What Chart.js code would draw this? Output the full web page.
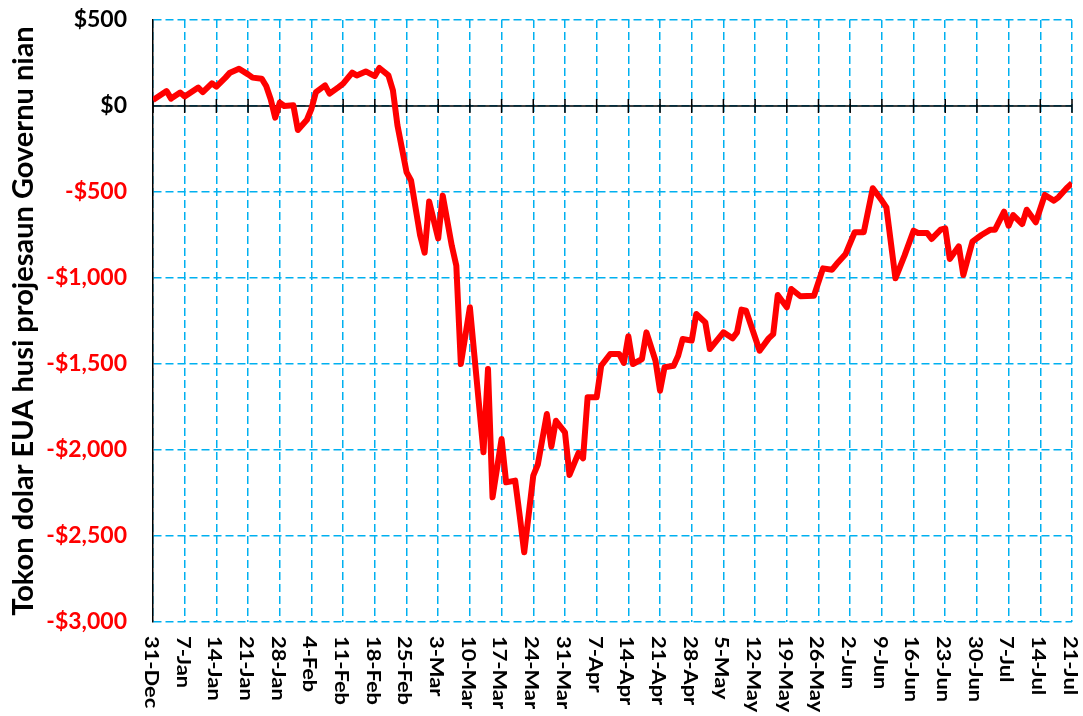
<!DOCTYPE html>
<html>
<head>
<meta charset="utf-8">
<script src="https://cdn.jsdelivr.net/npm/chart.js@4"></script>
<style>
  body { margin: 0; background: #fff; }
  #wrap { width: 1083px; height: 716px; }
</style>
</head>
<body>
<div id="wrap"><canvas id="gap-chart"></canvas></div>
<script>
// weekly tick labels (every 7 days from 31-Dec)
const tickLabels = ['31-Dec','7-Jan','14-Jan','21-Jan','28-Jan','4-Feb','11-Feb','18-Feb','25-Feb',
  '3-Mar','10-Mar','17-Mar','24-Mar','31-Mar','7-Apr','14-Apr','21-Apr','28-Apr','5-May','12-May',
  '19-May','26-May','2-Jun','9-Jun','16-Jun','23-Jun','30-Jun','7-Jul','14-Jul','21-Jul'];

// days after 31-Dec
const days = [0,3,4,6,7,10,11,13,14,16,17,19,21,22,24,25,26,27,28,29,
  31,32,34,35,36,38,39,41,42,44,45,47,49,50,52,53,54,55,56,57,
  59,60,61,63,64,66,67,68,70,71,73,74,75,77,78,80,81,82,84,85,
  87,88,89,91,92,94,95,96,98,99,101,103,104,105,106,108,109,111,112,113,
  115,116,117,119,120,122,123,126,128,129,130,131,134,136,137,138,140,141,143,146,
  148,150,151,153,155,157,159,161,162,164,166,168,169,171,172,174,175,176,178,179,
  181,183,185,186,188,189,190,192,193,195,197,199,200,202,203];

// gap vs government projection, US$
const gap = [35,87,43,78,55,107,81,132,113,165,194,217,184,165,159,116,39,-68,20,0,
  4,-140,-80,-16,81,120,72,110,130,194,178,201,174,221,178,91,-113,-248,-384,-433,
  -752,-853,-555,-770,-521,-812,-928,-1500,-1170,-1452,-2013,-1529,-2275,-1936,-2188,-2178,-2382,-2595,-2149,-2085,
  -1791,-1980,-1830,-1897,-2145,-2017,-2048,-1694,-1694,-1510,-1442,-1442,-1494,-1339,-1500,-1471,-1316,-1481,-1655,-1519,
  -1510,-1452,-1355,-1364,-1209,-1258,-1413,-1316,-1351,-1316,-1184,-1190,-1423,-1351,-1326,-1099,-1170,-1064,-1106,-1103,
  -944,-952,-919,-860,-734,-734,-478,-550,-589,-1002,-870,-725,-738,-738,-773,-719,-711,-889,-816,-983,
  -789,-750,-719,-719,-614,-696,-634,-686,-603,-676,-517,-550,-531,-473,-448];

Chart.defaults.font.family = 'Lato';

const gridBlue = '#00b0f0';

// black zero line with cross ticks
const zeroLine = {
  id: 'zeroLine',
  beforeDatasetsDraw(chart) {
    const {ctx, chartArea, scales} = chart;
    const y0 = scales.y.getPixelForValue(0);
    ctx.save();
    ctx.strokeStyle = '#000';
    ctx.lineWidth = 1.5;
    ctx.beginPath();
    ctx.moveTo(chartArea.left, y0);
    ctx.lineTo(chartArea.right, y0);
    scales.x.ticks.forEach(t => {
      const px = scales.x.getPixelForValue(t.value);
      ctx.moveTo(px, y0 - 7);
      ctx.lineTo(px, y0 + 7);
    });
    ctx.stroke();
    ctx.restore();
  }
};

// x labels rotated clockwise (read top to bottom)
const xLabels = {
  id: 'xLabels',
  afterDraw(chart) {
    const {ctx, chartArea, scales} = chart;
    ctx.save();
    ctx.font = 'bold 19px Lato';
    ctx.fillStyle = '#000';
    ctx.textAlign = 'left';
    ctx.textBaseline = 'middle';
    scales.x.ticks.forEach((t, i) => {
      const px = scales.x.getPixelForValue(t.value);
      ctx.save();
      ctx.translate(px - 2, chartArea.bottom + 14);
      ctx.rotate(Math.PI / 2);
      ctx.scale(1.15, 1);
      ctx.fillText(tickLabels[i], 0, 0);
      ctx.restore();
    });
    ctx.restore();
  }
};

const config = {
  type: 'line',
  data: {
    datasets: [{
      data: days.map((d, i) => ({x: d, y: gap[i]})),
      borderColor: '#ff0000',
      borderWidth: 6,
      borderJoinStyle: 'round',
      pointRadius: 0,
      tension: 0,
      fill: false
    }]
  },
  options: {
    responsive: true,
    maintainAspectRatio: false,
    animation: false,
    layout: { padding: { top: 20, right: 11, left: 0 } },
    plugins: { legend: { display: false }, tooltip: { enabled: false } },
    scales: {
      x: {
        type: 'linear',
        min: 0,
        max: 203,
        ticks: { stepSize: 7, display: false },
        grid: { color: gridBlue, lineWidth: 1.5, drawTicks: false },
        border: { display: false, dash: [8, 4] },
        afterFit(scale) { scale.height = 94; }
      },
      y: {
        min: -3000,
        max: 500,
        ticks: {
          stepSize: 500,
          padding: 26,
          font: { size: 23, weight: 'bold' },
          color: c => c.tick.value < 0 ? '#ff0000' : '#000000',
          callback: v => (v < 0 ? '-' : '') + '$' + Math.abs(v).toLocaleString('en-US')
        },
        grid: { color: gridBlue, lineWidth: 1.5, drawTicks: false },
        border: { display: true, color: '#000', width: 1.5, dash: [8, 4] },
        title: {
          display: true,
          text: 'Tokon dolar EUA husi projesaun Governu nian',
          color: '#000',
          font: { size: 29, weight: 'bold' },
          padding: { top: 6, bottom: 0 }
        },
        afterFit(scale) {
          scale.width = 153;
          scale.paddingTop = 0;
          scale.paddingBottom = 0;
        }
      }
    }
  },
  plugins: [zeroLine, xLabels]
};

new Chart(document.getElementById('gap-chart'), config);
</script>
</body>
</html>
